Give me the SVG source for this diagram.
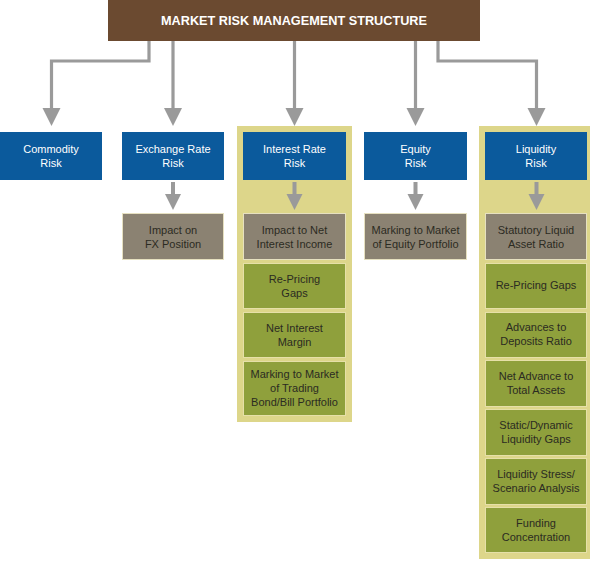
<svg xmlns="http://www.w3.org/2000/svg" width="594" height="561" viewBox="0 0 594 561">
<style>
text{font-family:"Liberation Sans",Arial,sans-serif;font-size:11px;fill:#fff;text-anchor:middle}
.t{fill:#ffffff}
.d{fill:#2b2b22}
.blue{fill:#0b5a9c}
.gray{fill:#8b8272;stroke:#e6e0c0;stroke-width:1}
.green{fill:#8fa03c;stroke:#e6e0a8;stroke-width:1}
.panel{fill:#ddd68a}
.ln{fill:none;stroke:#9a9a9a;stroke-width:3.2}
.ah{fill:#9a9a9a}
</style>
<rect width="594" height="561" fill="#fff"/>
<g id="panels">
<rect class="panel" x="237" y="126" width="115" height="296"/>
<rect class="panel" x="479" y="126" width="111" height="433"/>
</g>
<g id="title">
<rect x="108" y="0" width="372" height="41" fill="#6b4a30"/>
<text x="294" y="25" style="font-size:13.5px;font-weight:bold" textLength="266" lengthAdjust="spacingAndGlyphs">MARKET RISK MANAGEMENT STRUCTURE</text>
</g>
<g id="connectors">
<path class="ln" d="M149 41V61H51.5V110"/>
<path class="ln" d="M173 41V110"/>
<path class="ln" d="M294.5 41V110"/>
<path class="ln" d="M415.5 41V110"/>
<path class="ln" d="M438 41V61H536.5V110"/>
<polygon class="ah" points="42.5,108 60.5,108 51.5,126"/>
<polygon class="ah" points="164,108 182,108 173,126"/>
<polygon class="ah" points="285.5,108 303.5,108 294.5,126"/>
<polygon class="ah" points="406.5,108 424.5,108 415.5,126"/>
<polygon class="ah" points="527.5,108 545.5,108 536.5,126"/>
<rect class="ah" x="171" y="182" width="4" height="13"/>
<polygon class="ah" points="165,194 181,194 173,210"/>
<rect class="ah" x="292.5" y="182" width="4" height="13"/>
<polygon class="ah" points="286.5,194 302.5,194 294.5,210"/>
<rect class="ah" x="413.5" y="182" width="4" height="13"/>
<polygon class="ah" points="407.5,194 423.5,194 415.5,210"/>
<rect class="ah" x="534.5" y="182" width="4" height="13"/>
<polygon class="ah" points="528.5,194 544.5,194 536.5,210"/>
</g>
<g id="commodity"><rect class="blue" x="0" y="132" width="102" height="48"/><text x="51" y="153">Commodity</text><text x="51" y="167">Risk</text></g>
<g id="exchange"><rect class="blue" x="122" y="132" width="102" height="48"/><text x="173" y="153">Exchange Rate</text><text x="173" y="167">Risk</text></g>
<g id="interest"><rect class="blue" x="243" y="132" width="103" height="48"/><text x="294.5" y="153">Interest Rate</text><text x="294.5" y="167">Risk</text></g>
<g id="equity"><rect class="blue" x="364" y="132" width="103" height="48"/><text x="415.5" y="153">Equity</text><text x="415.5" y="167">Risk</text></g>
<g id="liquidity"><rect class="blue" x="485" y="132" width="102" height="48"/><text x="536" y="153">Liquidity</text><text x="536" y="167">Risk</text></g>

<g id="fx"><rect class="gray" x="122.5" y="213.5" width="101" height="46"/><text class="d" x="173" y="234">Impact on</text><text class="d" x="173" y="248">FX Position</text></g>
<g id="nii"><rect class="gray" x="243.5" y="213.5" width="102" height="46"/><text class="d" x="294.5" y="234">Impact to Net</text><text class="d" x="294.5" y="248">Interest Income</text></g>
<g id="ir-repricing"><rect class="green" x="243.5" y="263.5" width="102" height="45"/><text class="d" x="294.5" y="283">Re-Pricing</text><text class="d" x="294.5" y="297">Gaps</text></g>
<g id="nim"><rect class="green" x="243.5" y="312.5" width="102" height="45"/><text class="d" x="294.5" y="332">Net Interest</text><text class="d" x="294.5" y="346">Margin</text></g>
<g id="mtm-trading"><rect class="green" x="243.5" y="361.5" width="102" height="54"/><text class="d" x="294.5" y="378">Marking to Market</text><text class="d" x="294.5" y="392">of Trading</text><text class="d" x="294.5" y="406">Bond/Bill Portfolio</text></g>
<g id="mtm-equity"><rect class="gray" x="364.5" y="213.5" width="102" height="46"/><text class="d" x="415.5" y="234">Marking to Market</text><text class="d" x="415.5" y="248">of Equity Portfolio</text></g>

<g id="slar"><rect class="gray" x="485.5" y="213.5" width="101" height="46"/><text class="d" x="536" y="234">Statutory Liquid</text><text class="d" x="536" y="248">Asset Ratio</text></g>
<g id="liq-repricing"><rect class="green" x="485.5" y="263.5" width="101" height="45"/><text class="d" x="536" y="289">Re-Pricing Gaps</text></g>
<g id="adr"><rect class="green" x="485.5" y="312.5" width="101" height="45"/><text class="d" x="536" y="331">Advances to</text><text class="d" x="536" y="345">Deposits Ratio</text></g>
<g id="nata"><rect class="green" x="485.5" y="360.5" width="101" height="46"/><text class="d" x="536" y="380">Net Advance to</text><text class="d" x="536" y="394">Total Assets</text></g>
<g id="gaps"><rect class="green" x="485.5" y="409.5" width="101" height="46"/><text class="d" x="536" y="429">Static/Dynamic</text><text class="d" x="536" y="443">Liquidity Gaps</text></g>
<g id="stress"><rect class="green" x="485.5" y="458.5" width="101" height="46"/><text class="d" x="536" y="478">Liquidity Stress/</text><text class="d" x="536" y="492">Scenario Analysis</text></g>
<g id="funding"><rect class="green" x="485.5" y="507.5" width="101" height="45"/><text class="d" x="536" y="527">Funding</text><text class="d" x="536" y="541">Concentration</text></g>
</svg>
